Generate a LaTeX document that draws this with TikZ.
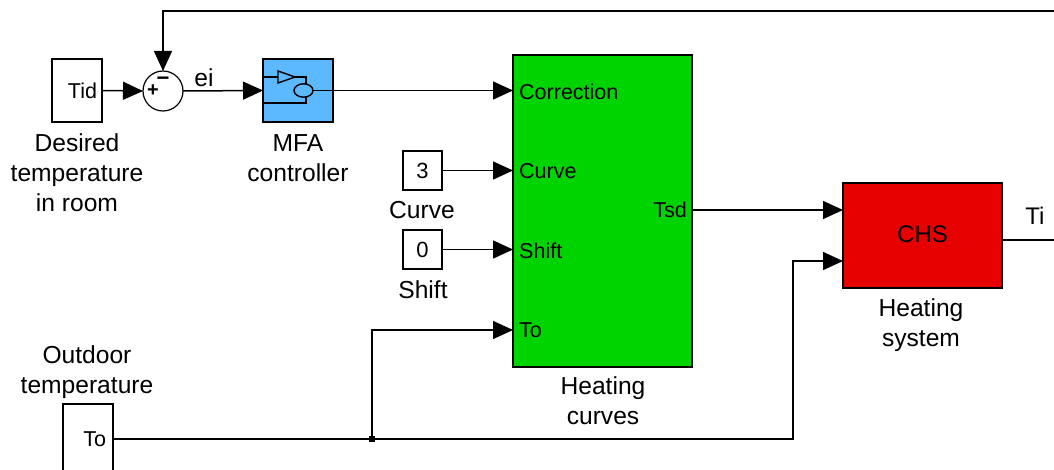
\documentclass[tikz,border=0pt]{standalone}
\usepackage{fontspec}
\setmainfont{Liberation Sans}
\usetikzlibrary{arrows.meta}
\definecolor{mfablue}{HTML}{5CB8FF}
\definecolor{curvegreen}{HTML}{00D400}
\definecolor{chsred}{HTML}{E60000}
\tikzset{
  blockbox/.style={draw=black,line width=1.2pt,minimum width=#1,inner sep=0pt,outer sep=0pt},
  srcbox/.style={draw=black,line width=1.2pt,fill=white,text width=50pt-2*#1,align=right,inner xsep=#1,inner ysep=0pt,outer sep=0pt,font=\fontsize{21.5}{25}\selectfont},
  constbox/.style={draw=black,line width=1.2pt,fill=white,minimum width=39pt,minimum height=39pt,inner sep=0pt,outer sep=0pt,font=\fontsize{22}{25}\selectfont},
  caption/.style={align=center,inner sep=0pt,font=\fontsize{24.6}{30}\selectfont},
  portlabel/.style={inner sep=0pt,font=\fontsize{21.5}{25}\selectfont},
  wire/.style={line width=1.5pt},
  sig/.style={wire,-{Triangle[length=20pt,width=18pt]}},
  icon/.style={line width=1.4pt}
}
\begin{document}
\begin{tikzpicture}[x=1pt,y=-1pt]
\useasboundingbox (0,0) rectangle (1054,470);
% blocks
\node[srcbox=5pt,minimum height=63pt] (tid) at (77,90.5) {Tid};
\node[draw=black,line width=1.2pt,fill=white,circle,minimum size=40pt,inner sep=0pt,outer sep=0pt] (sum) at (163,91) {};
\node[inner sep=0pt,font=\bfseries\fontsize{20}{20}\selectfont] (plus) at (153,91) {+};
\node[inner sep=0pt,font=\bfseries\fontsize{22}{22}\selectfont] (minus) at (163,81) {−};
\node[blockbox=70pt,fill=mfablue,minimum height=63pt] (mfa) at (298,90.5) {};
\node[blockbox=179pt,fill=curvegreen,minimum height=312pt] (curves) at (602.5,211) {};
\node[constbox] (c3) at (422.5,170.5) {3};
\node[constbox] (c0) at (422.5,249.5) {0};
\node[blockbox=159pt,fill=chsred,minimum height=105pt,font=\fontsize{24}{25}\selectfont] (chs) at (922.5,235.5) {\raisebox{2pt}{CHS}};
\node[srcbox=7pt,minimum height=70pt] (to) at (88,439) {To};
% MFA icon
\coordinate (oc) at (303.5,90.5);
\draw[icon] (263,77) -- (278,77);
\draw[icon] (278,71) -- (295,77) -- (278,83) -- cycle;
\draw[icon] (295,77) -- (306,77) -- (306,84);
\draw[icon] (263,103) -- (306,103) -- (306,97);
\draw[icon] (oc) ellipse (9.5pt and 6.7pt);
\draw[icon] (313,90.5) -- (mfa.east);
% port labels
\node[portlabel,anchor=west] (pcorr) at (519,91.5) {Correction};
\node[portlabel,anchor=west] (pcurve) at (519,171.5) {Curve};
\node[portlabel,anchor=west] (pshift) at (519,250.5) {Shift};
\node[portlabel,anchor=west] (pto) at (519,330) {To};
\node[portlabel,anchor=east] (ptsd) at (687,210) {Tsd};
% captions
\node[caption] (capd) at (77,173) {Desired\\temperature\\in room};
\node[caption] (capm) at (298,158) {MFA\\controller};
\node[caption] (capc) at (422,210) {Curve};
\node[caption] (caps) at (423,290) {Shift};
\node[caption] (capo) at (87,372.5) {Outdoor\\temperature};
\node[caption] (caph) at (603,401) {Heating\\curves};
\node[caption] (caps2) at (921,325) {Heating\\system};
\node[caption] (ei) at (204,78) {ei};
\node[caption,font=\fontsize{24}{25}\selectfont] (ti) at (1035,216) {Ti};
% connectors
\coordinate (fbend) at (1054,11);
\coordinate (tiend) at (1054,240);
\coordinate (jn) at (372,439);
\coordinate (tiport) at (chs.east |- tiend);
\coordinate (tsdport) at (curves.east |- ptsd);
\draw[sig] (tid.east) -- (sum.west);
\draw[sig] (sum.east) -- (mfa.west);
\draw[sig] (mfa.east) -- (curves.west |- mfa.east);
\draw[sig] (c3.east) -- (curves.west |- c3.east);
\draw[sig] (c0.east) -- (curves.west |- c0.east);
\draw[sig] (fbend) -| (sum.north);
\draw[sig] (tsdport) -- (chs.west |- tsdport);
\draw[wire] (tiport) -- (tiend);
\draw[wire] (to.east) -- (jn);
\draw[sig] (jn) |- (curves.west |- pto);
\coordinate (chsin) at (chs.west |- 0,261);
\draw[sig] (jn) -- (793,439) |- (chsin);
\fill (jn) ++(-3,-3) rectangle ++(6,6);
\end{tikzpicture}
\end{document}
